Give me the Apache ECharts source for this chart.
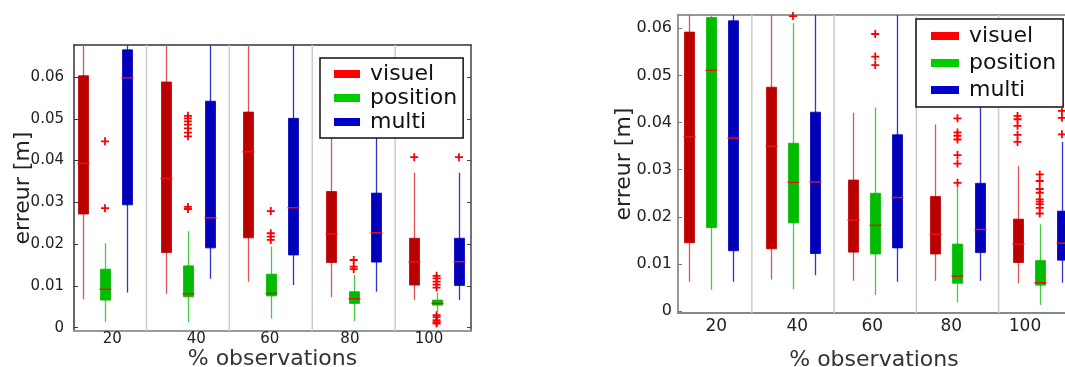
<!DOCTYPE html>
<html><head><meta charset="utf-8">
<script src="https://cdn.jsdelivr.net/npm/echarts@6/dist/echarts.min.js"></script>
<style>html,body{margin:0;padding:0;background:#fff}#c{width:1065px;height:367px}</style>
</head><body><div id="c"></div>
<script>
// ---------- DATA ----------
const categories = ['20', '40', '60', '80', '100'];
const methods = ['visuel', 'position', 'multi'];
const yTicks = [0, 0.01, 0.02, 0.03, 0.04, 0.05, 0.06];
const xName = '% observations';
const yName = 'erreur [m]';
// rows per category: [lower whisker, Q1, median, Q3, upper whisker]
const leftVisuel = [[0.0068,0.0272,0.0393,0.0603,0.0720],[0.0081,0.0180,0.0357,0.0588,0.0720],[0.0110,0.0215,0.0421,0.0516,0.0720],[0.0073,0.0156,0.0224,0.0326,0.0560],[0.0066,0.0102,0.0157,0.0214,0.0371]];
const leftPosition = [[0.0014,0.0066,0.0092,0.0140,0.0202],[0.0013,0.0074,0.0081,0.0148,0.0231],[0.0022,0.0076,0.0082,0.0128,0.0194],[0.0016,0.0058,0.0069,0.0086,0.0126],[0.0038,0.0054,0.0058,0.0066,0.0084]];
const leftMulti = [[0.0084,0.0294,0.0598,0.0665,0.0720],[0.0117,0.0191,0.0263,0.0542,0.0720],[0.0102,0.0174,0.0287,0.0501,0.0720],[0.0086,0.0157,0.0227,0.0322,0.0570],[0.0066,0.0101,0.0158,0.0214,0.0371]];
const leftVisuelOut = [[],[],[],[],[0.0408]];
const leftPositionOut = [[0.0446,0.0286],[0.0507,0.0501,0.0494,0.0486,0.0477,0.0467,0.0458,0.0289,0.0284],[0.0279,0.0226,0.0218,0.0210],[0.0162,0.0146,0.0140],[0.0124,0.0118,0.0110,0.0103,0.0096,0.0030,0.0025,0.0018,0.0013,0.0010]];
const leftMultiOut = [[],[],[],[],[0.0408]];

const rightVisuel = [[0.0062,0.0145,0.0370,0.0592,0.0680],[0.0067,0.0132,0.0350,0.0475,0.0680],[0.0064,0.0125,0.0193,0.0278,0.0421],[0.0064,0.0121,0.0163,0.0243,0.0396],[0.0059,0.0103,0.0142,0.0195,0.0308]];
const rightPosition = [[0.0045,0.0177,0.0511,0.0623,0.0680],[0.0046,0.0187,0.0273,0.0356,0.0611],[0.0034,0.0121,0.0182,0.0250,0.0432],[0.0018,0.0059,0.0074,0.0142,0.0264],[0.0013,0.0055,0.0060,0.0107,0.0184]];
const rightMulti = [[0.0062,0.0128,0.0367,0.0616,0.0680],[0.0076,0.0122,0.0274,0.0422,0.0680],[0.0062,0.0134,0.0241,0.0374,0.0680],[0.0064,0.0124,0.0173,0.0271,0.0492],[0.0060,0.0108,0.0144,0.0212,0.0359]];
const rightVisuelOut = [[],[],[],[],[0.0414,0.0407,0.0393,0.0374,0.0359]];
const rightPositionOut = [[],[0.0626],[0.0588,0.0540,0.0522],[0.0409,0.0379,0.0372,0.0364,0.0331,0.0313,0.0272],[0.0290,0.0276,0.0259,0.0251,0.0237,0.0232,0.0227,0.0219,0.0207]];
const rightMultiOut = [[],[],[],[],[0.0425,0.0410,0.0375]];

// ---------- STYLE / LAYOUT ----------
const FONT = 'DejaVu Sans';
const boxColors = ['#bb0000', '#00bb00', '#0000bb'];
const whiskerColors = ['#dd5555', '#44cc44', '#3333cc'];
const legendColors = ['#ff0000', '#00cc00', '#0000cc'];
const medianColor = '#ee1111';
const outlierColor = '#ff0000';
const methodOffset = [-0.27, 0, 0.27];
const panels = [
  { box: [leftVisuel, leftPosition, leftMulti], out: [leftVisuelOut, leftPositionOut, leftMultiOut],
    grid: { left: 74, top: 45, width: 397, height: 286 }, xRange: [-0.374, 4.415], yRange: [-0.0008, 0.06766],
    labelShift: [0.088, 0.101, -0.013, -0.046, -0.092], xFont: 15, yFont: 15, yMargin: 10, xMargin: 1,
    nameGapX: 17, nameGapY: 40, axisColor: '#333', bottomColor: '#999', mirrorRight: true,
    legend: { left: 320, top: 58, padding: [5, 6, 5, 14], itemWidth: 26, itemGap: 2 } },
  { box: [rightVisuel, rightPosition, rightMulti], out: [rightVisuelOut, rightPositionOut, rightMultiOut],
    grid: { left: 678, top: 15, width: 392, height: 298 }, xRange: [-0.398, 4.368], yRange: [-0.00042, 0.06283],
    labelShift: [0.067, 0.052, -0.036, -0.076, -0.179], xFont: 17, yFont: 16, yMargin: 6, xMargin: 5,
    nameGapX: 36, nameGapY: 43, axisColor: '#777', bottomColor: '#888', mirrorRight: false,
    legend: { left: 916, top: 19, padding: [6, 7, 6, 15], itemWidth: 28, itemGap: 5 } }
];
const boxWidth = 10;

function clampY(cs, y) { return Math.max(cs.y, Math.min(cs.y + cs.height, y)); }

function boxRenderer(mi) {
  return function (params, api) {
    const cs = params.coordSys;
    const x = api.value(0);
    const pMin = api.coord([x, api.value(1)]);
    const pQ1 = api.coord([x, api.value(2)]);
    const pMed = api.coord([x, api.value(3)]);
    const pQ3 = api.coord([x, api.value(4)]);
    const pMax = api.coord([x, api.value(5)]);
    const cx = Math.round(pMed[0]) + 0.5;
    const yTop = clampY(cs, pQ3[1]), yBot = clampY(cs, pQ1[1]);
    return { type: 'group', children: [
      { type: 'line', shape: { x1: cx, y1: clampY(cs, pMax[1]), x2: cx, y2: clampY(cs, pMin[1]) },
        style: { stroke: whiskerColors[mi], lineWidth: 1.3 } },
      { type: 'rect', shape: { x: cx - boxWidth / 2, y: yTop, width: boxWidth, height: yBot - yTop },
        style: { fill: boxColors[mi], stroke: boxColors[mi], lineWidth: 0.8, opacity: 1 } },
      { type: 'line', shape: { x1: cx - boxWidth / 2 - 1, y1: pMed[1], x2: cx + boxWidth / 2 + 1, y2: pMed[1] },
        style: { stroke: medianColor, lineWidth: 1.4 } }
    ] };
  };
}

function sepRenderer(params, api) {
  const cs = params.coordSys;
  const p = api.coord([api.value(0), 0]);
  return { type: 'line', shape: { x1: p[0], y1: cs.y, x2: p[0], y2: cs.y + cs.height },
    style: { stroke: '#cccccc', lineWidth: 1.5 } };
}

const plusSymbol = 'path://M3.1,0h1.8v3.1h3.1v1.8h-3.1v3.1h-1.8v-3.1h-3.1v-1.8h3.1z';

const option = { animation: false, backgroundColor: '#fff', grid: [], xAxis: [], yAxis: [], series: [], legend: [] };

panels.forEach((P, pi) => {
  option.grid.push(Object.assign({ containLabel: false, outerBoundsMode: 'none' }, P.grid));
  const xb = option.xAxis.length;
  option.xAxis.push({
    type: 'value', gridIndex: pi, min: P.xRange[0], max: P.xRange[1], position: 'bottom',
    name: xName, nameLocation: 'middle', nameGap: P.nameGapX, nameMoveOverlap: false,
    nameTextStyle: { fontFamily: FONT, fontSize: 22, color: '#333', verticalAlign: 'top' },
    axisLine: { show: true, onZero: false, lineStyle: { color: P.bottomColor, width: 2 } },
    axisTick: { show: false }, splitLine: { show: false },
    axisLabel: { customValues: categories.map((c, i) => i + P.labelShift[i]),
      formatter: v => categories[Math.round(v)], fontFamily: FONT, fontSize: P.xFont, color: '#222', margin: P.xMargin }
  });
  option.xAxis.push({
    type: 'value', gridIndex: pi, min: P.xRange[0], max: P.xRange[1], position: 'top',
    axisLine: { show: true, onZero: false, lineStyle: { color: P.axisColor, width: 1.5 } },
    axisTick: { show: false }, axisLabel: { show: false }, splitLine: { show: false }
  });
  const yb = option.yAxis.length;
  option.yAxis.push({
    type: 'value', gridIndex: pi, min: P.yRange[0], max: P.yRange[1], position: 'left',
    name: yName, nameLocation: 'middle', nameGap: P.nameGapY, nameRotate: 90, nameMoveOverlap: false,
    nameTextStyle: { fontFamily: FONT, fontSize: 22, color: '#222' },
    axisLine: { show: true, onZero: false, lineStyle: { color: P.axisColor, width: 1.5 } },
    axisTick: { show: true, inside: true, length: 4, customValues: yTicks, lineStyle: { color: P.axisColor } },
    splitLine: { show: false },
    axisLabel: { customValues: yTicks, formatter: v => (v === 0 ? '0' : v.toFixed(2)),
      fontFamily: FONT, fontSize: P.yFont, color: '#222', margin: P.yMargin }
  });
  if (P.mirrorRight) {
    option.yAxis.push({
      type: 'value', gridIndex: pi, min: P.yRange[0], max: P.yRange[1], position: 'right',
      axisLine: { show: true, onZero: false, lineStyle: { color: '#444', width: 1.5 } },
      axisTick: { show: true, inside: true, length: 4, customValues: yTicks, lineStyle: { color: '#444' } },
      axisLabel: { show: false }, splitLine: { show: false }
    });
  }
  option.series.push({
    type: 'custom', xAxisIndex: xb, yAxisIndex: yb, silent: true, z: 1,
    data: categories.slice(1).map((c, i) => [i + 0.5]), encode: { x: 0 }, renderItem: sepRenderer
  });
  methods.forEach((m, mi) => {
    option.series.push({
      type: 'custom', name: m, xAxisIndex: xb, yAxisIndex: yb, z: 3,
      itemStyle: { color: legendColors[mi] },
      data: P.box[mi].map((r, gi) => [gi + methodOffset[mi]].concat(r)),
      encode: { x: 0, y: [1, 5] }, renderItem: boxRenderer(mi)
    });
    const outData = [];
    P.out[mi].forEach((arr, gi) => arr.forEach(v => outData.push([gi + methodOffset[mi], v])));
    option.series.push({
      type: 'scatter', name: m + '_out', xAxisIndex: xb, yAxisIndex: yb, z: 4, silent: true,
      symbol: plusSymbol, symbolSize: 8, itemStyle: { color: outlierColor, opacity: 1 }, data: outData
    });
  });
  option.legend.push(Object.assign({
    orient: 'vertical', itemHeight: 8, backgroundColor: '#fff', borderColor: '#111', borderWidth: 1.5,
    borderRadius: 0, icon: 'rect', selectedMode: false,
    textStyle: { fontFamily: FONT, fontSize: 22, color: '#111', padding: [0, 0, 0, 5] },
    data: methods.map((m, mi) => ({ name: m, itemStyle: { color: legendColors[mi] } }))
  }, P.legend));
});

const chart = echarts.init(document.getElementById('c'), null, { renderer: 'canvas' });
chart.setOption(option);
</script></body></html>
